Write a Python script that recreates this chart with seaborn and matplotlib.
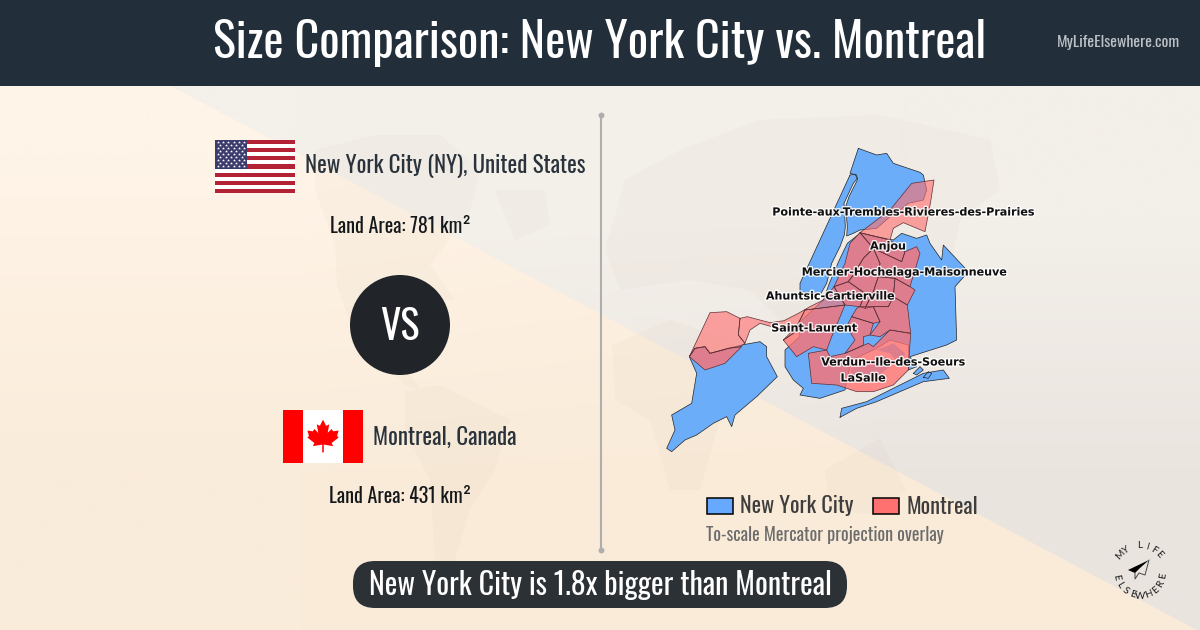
import matplotlib
matplotlib.use("Agg")
import matplotlib.pyplot as plt
import matplotlib.patheffects as pe
from matplotlib.patches import Rectangle, Circle, FancyBboxPatch, Polygon
import numpy as np
import pandas as pd
import seaborn as sns

sns.set_theme(style="white")
plt.rcParams["font.family"] = ["Oswald", "Roboto", "DejaVu Sans"]

TITLE = "Size Comparison: New York City vs. Montreal"
SITE = "MyLifeElsewhere.com"
CITY_A = "New York City"
CITY_B = "Montreal"
PLACE_A = "New York City (NY), United States"
PLACE_B = "Montreal, Canada"
AREA_A = "Land Area: 781 km²"
AREA_B = "Land Area: 431 km²"
NOTE = "To-scale Mercator projection overlay"
VERDICT = "New York City is 1.8x bigger than Montreal"

# map outlines
staten = [(105,625),(135,620),(150,640),(205,625),(245,615),(300,605),(320,620),(320,650),(352,710),(290,770),(225,825),
          (215,860),(200,830),(160,850),(110,885),(75,900),(35,935),(20,925),(45,870),(35,825),(95,790),(110,700),(88,650)]
bronx = [(595,25),(650,45),(680,40),(700,70),(780,97),(790,105),(800,150),(790,180),(745,190),(720,210),(690,230),(650,265),
         (600,270),(580,280),(560,288),(562,260),(557,200),(567,170),(592,120),(590,105),(570,100)]
manhattan = [(570,105),(585,103),(592,115),(580,130),(552,190),(556,260),(553,285),(540,320),(515,370),(500,430),(480,465),(420,455),(420,430)]
queens = [(490,480),(508,430),(538,360),(562,310),(600,280),(700,300),(725,280),(770,295),(800,285),(810,310),(845,360),
          (850,315),(925,395),(885,440),(890,600),(860,615),(750,650),(770,680),(745,690),(745,615),(690,600),(650,625),(575,660),
          (560,720),(555,750),(480,775),(420,765),(430,745),(400,720),(375,680),(375,630),(420,590),(415,550)]
marshes = [
    [(600,700),(640,660),(680,650),(690,680),(650,710)],
    [(650,630),(700,610),(735,640),(725,680),(690,640)],
    [(570,690),(600,660),(625,680),(590,720)],
]
rockaway = [(540,832),(545,805),(620,785),(700,745),(790,700),(850,690),(868,715),(790,725),(720,755),(650,785),(590,805)]
islet_a = [(760,700),(780,680),(790,690),(770,705)]
islet_b = [(790,712),(805,695),(815,700),(805,715)]
nyc_shapes = [staten, bronx, manhattan, queens, rockaway, islet_a, islet_b]

montreal = [
    [(88,650),(150,518),(200,515),(240,535),(235,585),(255,610),(240,620),(205,625),(190,630),(150,640),(135,620),(105,625)],
    [(240,535),(262,530),(330,548),(372,542),(415,520),(450,500),(490,480),(522,440),(555,495),(435,510),(400,580),(370,600),(395,575),(335,560),(300,550),(270,570),(255,610),(235,585)],
    [(600,278),(690,210),(755,130),(822,120),(812,185),(795,275),(730,248),(700,265),(690,300)],
    [(88,650),(105,625),(135,620),(150,640),(205,625),(245,620),(195,670),(135,690)],
    [(370,600),(400,580),(435,510),(555,495),(515,590),(500,630),(460,620),(410,650)],
    [(600,278),(640,325),(610,355),(580,405),(565,425),(522,440),(555,370),(570,310)],
    [(600,278),(690,300),(735,335),(725,365),(640,325)],
    [(640,325),(725,365),(735,335),(770,320),(780,340),(750,440),(705,415),(655,410),(660,370)],
    [(640,325),(660,370),(655,410),(640,455),(615,505),(600,500),(615,460),(565,425),(580,405),(610,355)],
    [(522,440),(565,425),(615,460),(600,500),(555,495)],
    [(655,410),(705,415),(700,470),(685,500),(640,500),(615,505),(640,455)],
    [(705,415),(750,440),(765,450),(742,495),(700,470)],
    [(700,470),(742,495),(752,580),(690,570),(660,590),(630,585),(660,545),(640,500),(685,500)],
    [(600,500),(640,500),(660,545),(640,550),(575,530),(590,505)],
    [(575,530),(640,550),(630,585),(610,590),(610,615),(590,625),(555,640),(585,600),(560,560)],
    [(445,640),(500,630),(510,650),(555,640),(590,625),(625,610),(640,620),(690,570),(752,580),(748,640),(745,690),(700,735),(640,755),(590,755),(530,735),(455,730)],
]
shore_count = 3
labels = ["Pointe-aux-Trembles-Rivieres-des-Prairies", "Anjou", "Mercier-Hochelaga-Maisonneuve",
          "Ahuntsic-Cartierville", "Saint-Laurent", "Verdun--Ile-des-Soeurs", "LaSalle"]
label_x = [903, 888, 904, 830, 814, 893, 863]
label_y = [212.5, 246.5, 272.5, 296.5, 328.5, 362.5, 378.5]

# faint world map behind everything
world = [
    [(315,150),(375,135),(440,135),(480,170),(470,210),(445,245),(430,265),(455,300),(440,300),(420,290),(385,295),(375,330),(400,360),(420,390),(405,385),(370,345),(350,323),(337,285),(335,245),(315,190)],
    [(405,392),(440,385),(510,420),(495,470),(470,510),(450,575),(435,560),(430,480),(405,430)],
    [(495,190),(545,190),(550,225),(515,240)],
    [(605,250),(625,180),(680,150),(760,120),(880,115),(990,140),(1000,190),(960,220),(950,270),(905,300),(880,340),(860,310),(820,300),(790,330),(750,290),(690,280),(620,290)],
    [(612,345),(670,320),(730,340),(760,380),(720,420),(700,490),(670,490),(650,420),(615,400)],
    [(825,470),(880,438),(906,490),(880,515),(830,510)],
]
stripe_red = "#b22234"
leaf = [(0,-21),(4,-13),(8,-15),(6,-4),(11,-9),(13,-6),(20,-7),(18,0),(20,2),(11,9),(13,13),(1,11),(1,21),(-1,21),(-1,11),
        (-13,13),(-11,9),(-20,2),(-18,0),(-20,-7),(-13,-6),(-11,-9),(-6,-4),(-8,-15),(-4,-13)]
plane_dark = [(1128,570),(1149,560),(1140,568),(1135,573)]
plane_line = [(1149,560),(1145,575),(1139,573),(1135,579),(1135,573)]


def to_px(pts):
    pts = np.array(pts, dtype=float)
    return pts[:, 0] / 3 + 660, pts[:, 1] / 3 + 140


def draw_shape(ax, pts, color, alpha=1.0, edge="#20242a", lw=0.5, z=3):
    x, y = to_px(pts)
    ax.fill(x, y, color=color, alpha=alpha, lw=0, zorder=z)
    outline = pd.DataFrame({"x": np.r_[x, x[0]], "y": np.r_[y, y[0]]})
    sns.lineplot(data=outline, x="x", y="y", sort=False, estimator=None, color=edge, lw=lw, ax=ax, zorder=z + 0.1, legend=False)


fig = plt.figure(figsize=(12, 6.3), dpi=100)
ax = fig.add_axes([0, 0, 1, 1])

# background, warm with a grey wedge along the diagonal
bg = np.array([[[255, 244, 232], [253, 241, 227]], [[250, 236, 218], [250, 235, 217]]], dtype=float) / 255
ax.imshow(bg, extent=[0, 1200, 630, 0], aspect="auto", interpolation="bilinear", zorder=0)
wedge = np.array([[[244, 240, 234], [243, 239, 233]], [[238, 232, 226], [234, 228, 223]]], dtype=float) / 255
wedge_img = ax.imshow(wedge, extent=[0, 1200, 630, 86], aspect="auto", interpolation="bilinear", zorder=1)
wedge_img.set_clip_path(Polygon([(171, 86), (1200, 86), (1200, 632), (1178, 620)], transform=ax.transData))
ax.set_xlim(0, 1200)
ax.set_ylim(630, 0)
ax.axis("off")
for poly in world:
    p = np.array(poly)
    ax.fill(p[:, 0], p[:, 1], color="#7a5a30", alpha=0.022, lw=0, zorder=1.5)

ax.add_patch(Rectangle((0, 0), 1200, 86, color="#222e39", lw=0, zorder=2))
ax.text(600, 43, TITLE, color="white", fontsize=34.6, ha="center", va="center", zorder=5)
ax.text(1118, 42, SITE, color="#bcc1c6", fontsize=11.5, ha="center", va="center", zorder=5)

# divider
sns.lineplot(x=[601, 601], y=[115, 550], sort=False, estimator=None, color="#aeaeae", lw=1.5, ax=ax, zorder=2, legend=False)
sns.scatterplot(x=[601, 601], y=[115, 550], color="#aeaeae", s=18, ax=ax, zorder=2, legend=False, linewidth=0)

# US flag
n_stripes = 13
for i in range(n_stripes):
    ax.add_patch(Rectangle((215, 140 + i * 53 / n_stripes), 80, 53 / n_stripes, color=stripe_red if i % 2 == 0 else "white", lw=0, zorder=3))
ax.add_patch(Rectangle((215, 140), 32, 53 * 7 / n_stripes, color="#3c3b6e", lw=0, zorder=3.1))
star_x, star_y = [], []
for r in range(9):
    for c in range(6 if r % 2 == 0 else 5):
        star_x.append(217.7 + c * 5.3 + (0 if r % 2 == 0 else 2.65))
        star_y.append(141.5 + r * 3.1)
sns.scatterplot(x=star_x, y=star_y, marker="*", color="white", s=5, linewidth=0, ax=ax, zorder=3.2, legend=False)
ax.text(305, 166, PLACE_A, color="#2a333c", fontsize=16.5, ha="left", va="center", zorder=5)
ax.text(400, 226, AREA_A, color="#15181b", fontsize=14.4, ha="center", va="center", zorder=5)

# VS
ax.add_patch(Circle((400, 325), 50, color="#212529", lw=0, zorder=3))
ax.text(400, 327, "VS", color="white", fontsize=29, ha="center", va="center", zorder=5)

# Canada flag
ax.add_patch(Rectangle((283, 410), 80, 53, color="white", lw=0, zorder=3))
ax.add_patch(Rectangle((283, 410), 20, 53, color="#ff0000", lw=0, zorder=3.1))
ax.add_patch(Rectangle((343, 410), 20, 53, color="#ff0000", lw=0, zorder=3.1))
lf = np.array(leaf, dtype=float)
ax.fill(lf[:, 0] * 0.78 + 323, lf[:, 1] * 0.78 + 436, color="#ff0000", lw=0, zorder=3.2)
ax.text(373, 437, PLACE_B, color="#2a333c", fontsize=16.5, ha="left", va="center", zorder=5)
ax.text(400, 496, AREA_B, color="#15181b", fontsize=14.4, ha="center", va="center", zorder=5)

# map
nyc_blue = "#6badf8"
mtl_red = "#ff7070"
for shape in nyc_shapes:
    draw_shape(ax, shape, nyc_blue, z=3)
for marsh in marshes:
    mx, my = to_px(marsh)
    ax.fill(mx, my, color=nyc_blue, lw=0, zorder=3)
for i, shape in enumerate(montreal):
    draw_shape(ax, shape, mtl_red, alpha=0.62 if i < shore_count else 0.78, edge="#5c3038", lw=0.5, z=3.5)
for name, lx, ly in zip(labels, label_x, label_y):
    ax.text(lx, ly, name, family="DejaVu Sans", weight="bold", fontsize=8, color="#111111", ha="center", va="center", zorder=6,
            path_effects=[pe.withStroke(linewidth=2, foreground="white", alpha=0.85)])

# legend
ax.add_patch(Rectangle((706.5, 498), 26, 16, facecolor="#66a9ff", edgecolor="black", lw=1.1, zorder=4))
ax.text(740, 506.5, CITY_A, color="#3d3d3d", fontsize=16, ha="left", va="center", zorder=5)
ax.add_patch(Rectangle((873, 498), 26, 16, facecolor=mtl_red, edgecolor="black", lw=1.1, zorder=4))
ax.text(906, 506.5, CITY_B, color="#3d3d3d", fontsize=16, ha="left", va="center", zorder=5)
ax.text(706, 535.5, NOTE, color="#6c6c6c", fontsize=13, ha="left", va="center", zorder=5)

# verdict pill
ax.add_patch(FancyBboxPatch((353, 561), 494, 47, boxstyle="round,pad=0,rounding_size=22", color="#2c3135", lw=0, zorder=3.1))
ax.text(600, 586, VERDICT, color="white", fontsize=21.6, ha="center", va="center", zorder=5)

# logo
for word, start, stop, radius, sign in [("MY LIFE", 138, 42, 26, 1), ("ELSEWHERE", 192, 350, 24, -1)]:
    for ch, a in zip(word, np.linspace(start, stop, len(word))):
        t = np.deg2rad(a)
        ax.text(1140 + radius * np.cos(t), 572 - radius * np.sin(t), ch, fontsize=7.2, color="#1c1c1c", family="Lato",
                rotation=a - 90 if sign > 0 else a + 90, ha="center", va="center", zorder=5)
pd_ = np.array(plane_dark)
ax.fill(pd_[:, 0], pd_[:, 1], color="black", lw=0, zorder=5)
pl = np.array(plane_line)
ax.plot(pl[:, 0], pl[:, 1], color="#444444", lw=0.7, zorder=5)

fig.savefig("out.png", dpi=100)
